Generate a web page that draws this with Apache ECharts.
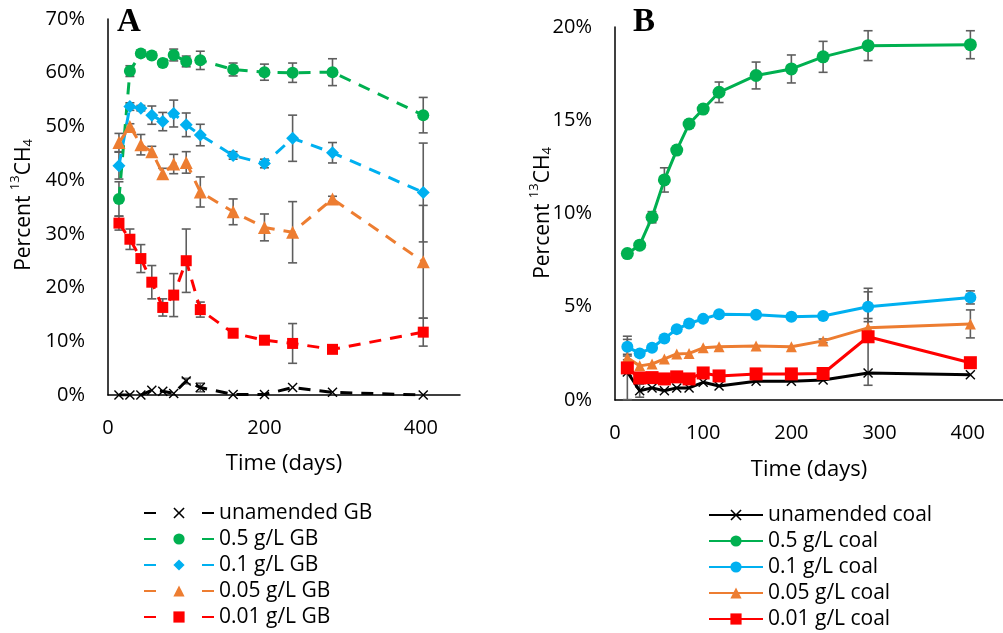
<!DOCTYPE html>
<html>
<head>
<meta charset="utf-8">
<script src="https://cdn.jsdelivr.net/npm/echarts@6/dist/echarts.min.js"></script>
<style>
  html, body { margin: 0; padding: 0; background: #fff; }
  #chart { width: 1003px; height: 633px; }
</style>
</head>
<body>
<div id="chart"></div>
<script>
// ---------- data ----------
const days = [14, 28, 42, 56, 70, 84, 100, 118, 160, 200, 236, 287, 403];

// Panel A (GB), percent 13CH4
const gbUnamended = [0, 0, 0, 0.9, 0.7, 0.3, 2.6, 1.4, 0.1, 0.1, 1.4, 0.5, 0];
const gbUnamendedErr = [0, 0, 0, 0, 0, 0, 0.5, 0.8, 0, 0, 0, 0, 0];
const gb05 = [36.5, 60.3, 63.6, 63.2, 61.8, 63.3, 62.1, 62.3, 60.6, 60.1, 60.0, 60.1, 52.1];
const gb05Err = [3.2, 1.0, 0.6, 0.6, 0.6, 1.1, 1.0, 1.7, 1.2, 1.5, 1.8, 2.5, 3.3];
const gb01 = [42.7, 53.7, 53.4, 52.1, 50.9, 52.4, 50.3, 48.4, 44.6, 43.1, 47.8, 45.1, 37.7];
const gb01Err = [2.5, 0.7, 0.5, 1.7, 1.7, 2.5, 2.2, 2.0, 0.7, 0.8, 4.3, 1.9, 9.2];
const gb005 = [47.0, 50.0, 46.6, 45.3, 41.2, 43.0, 43.3, 37.8, 34.1, 31.2, 30.3, 36.5, 24.8];
const gb005Err = [1.7, 0.5, 1.9, 1.0, 1.0, 1.8, 2.0, 2.8, 2.4, 2.5, 5.7, 0.5, 10.5];
const gb001 = [32.0, 29.0, 25.4, 21.0, 16.3, 18.6, 25.0, 15.9, 11.5, 10.2, 9.6, 8.5, 11.7];
const gb001Err = [1.3, 1.9, 2.6, 3.1, 1.6, 4.0, 5.9, 1.4, 0.5, 0.5, 3.7, 0.5, 2.6];

// Panel B (coal), percent 13CH4
const coalUnamended = [1.5, 0.5, 0.65, 0.5, 0.65, 0.65, 0.95, 0.75, 1.0, 1.0, 1.07, 1.45, 1.35];
const coalUnamendedErr = [0, 0.35, 0, 0, 0, 0, 0, 0, 0, 0, 0, 0, 0];
const coal05 = [7.85, 8.3, 9.8, 11.8, 13.4, 14.8, 15.6, 16.5, 17.4, 17.75, 18.4, 19.0, 19.05];
const coal05Err = [0.15, 0.2, 0.3, 0.65, 0.2, 0.2, 0.2, 0.55, 0.72, 0.75, 0.83, 0.8, 0.75];
const coal01 = [2.85, 2.5, 2.8, 3.3, 3.8, 4.1, 4.35, 4.6, 4.57, 4.46, 4.5, 5.0, 5.5];
const coal01Err = [0.4, 0, 0, 0, 0, 0, 0, 0, 0, 0, 0, 0.8, 0.35];
const coal005 = [2.26, 1.83, 1.93, 2.2, 2.47, 2.5, 2.8, 2.85, 2.9, 2.85, 3.17, 3.87, 4.08];
const coal005Err = [0.1, 0, 0, 0, 0, 0, 0, 0, 0, 0, 0.1, 0.5, 0.75];
const coal001 = [1.72, 1.18, 1.2, 1.13, 1.24, 1.13, 1.45, 1.29, 1.4, 1.4, 1.42, 3.39, 2.0];
const coal001Err = [1.7, 0, 0, 0, 0, 0, 0, 0, 0, 0, 0, 2.6, 0];

const xTicksA = [0, 200, 400];
const yTicksA = [0, 10, 20, 30, 40, 50, 60, 70];
const xTicksB = [0, 100, 200, 300, 400];
const yTicksB = [0, 5, 10, 15, 20];

// ---------- styling ----------
const FONT = '"Open Sans", "Liberation Sans", sans-serif';
const C = { black: '#000000', green: '#00B050', blue: '#00B0F0', orange: '#ED7D31', red: '#FF0000' };
const ERR = '#5E5E5E';
const crossPath = 'path://M0,1 L1,0 L5,4 L9,0 L10,1 L6,5 L10,9 L9,10 L5,6 L1,10 L0,9 L4,5 Z';

function pairs(vals) { return days.map((d, i) => [d, vals[i]]); }

function lineSeries(name, vals, color, symbol, size, axis, dashed) {
  return {
    name, type: 'line', xAxisIndex: axis, yAxisIndex: axis,
    data: pairs(vals), symbol, symbolSize: size, showAllSymbol: true,
    lineStyle: { color, width: 3, type: dashed ? [12, 9] : 'solid' },
    itemStyle: { color, borderWidth: 0 },
    z: 3, animation: false
  };
}

function errSeries(name, vals, errs, axis) {
  const data = [];
  days.forEach((d, i) => { if (errs[i] > 0) data.push([d, vals[i] - errs[i], vals[i] + errs[i]]); });
  return {
    name, type: 'custom', xAxisIndex: axis, yAxisIndex: axis, data,
    encode: { x: 0, y: [1, 2] }, z: 2, silent: true, animation: false,
    renderItem: function (params, api) {
      const x = api.value(0);
      const p1 = api.coord([x, api.value(2)]);
      const p2 = api.coord([x, api.value(1)]);
      const hw = 4.5;
      const st = { stroke: ERR, lineWidth: 1.6, fill: null };
      return {
        type: 'group', children: [
          { type: 'line', shape: { x1: p1[0], y1: p1[1], x2: p2[0], y2: p2[1] }, style: st },
          { type: 'line', shape: { x1: p1[0] - hw, y1: p1[1], x2: p1[0] + hw, y2: p1[1] }, style: st },
          { type: 'line', shape: { x1: p2[0] - hw, y1: p2[1], x2: p2[0] + hw, y2: p2[1] }, style: st }
        ]
      };
    }
  };
}

function xAxis(grid, max, interval) {
  return {
    type: 'value', gridIndex: grid, min: 0, max, interval,
    axisLine: { show: true, onZero: false, lineStyle: { color: '#000', width: 1.5 } },
    axisTick: { show: false }, splitLine: { show: false },
    axisLabel: { fontFamily: FONT, fontSize: 20, color: '#000', margin: 23, showMaxLabel: false }
  };
}
function yAxis(grid, max, interval) {
  return {
    type: 'value', gridIndex: grid, min: 0, max, interval,
    axisLine: { show: true, lineStyle: { color: '#000', width: 1.5 } },
    axisTick: { show: false }, splitLine: { show: false },
    axisLabel: { fontFamily: FONT, fontSize: 20, color: '#000', margin: 23, formatter: v => v + '%' }
  };
}

const namesA = ['unamended GB', '0.5 g/L GB', '0.1 g/L GB', '0.05 g/L GB', '0.01 g/L GB'];
const namesB = ['unamended coal', '0.5 g/L coal', '0.1 g/L coal', '0.05 g/L coal', '0.01 g/L coal'];

const series = [
  errSeries('eA0', gbUnamended, gbUnamendedErr, 0),
  errSeries('eA1', gb05, gb05Err, 0),
  errSeries('eA2', gb01, gb01Err, 0),
  errSeries('eA3', gb005, gb005Err, 0),
  errSeries('eA4', gb001, gb001Err, 0),
  lineSeries(namesA[0], gbUnamended, C.black, crossPath, 10, 0, true),
  lineSeries(namesA[1], gb05, C.green, 'circle', 12, 0, true),
  lineSeries(namesA[2], gb01, C.blue, 'diamond', 13, 0, true),
  lineSeries(namesA[3], gb005, C.orange, 'triangle', 13, 0, true),
  lineSeries(namesA[4], gb001, C.red, 'rect', 11, 0, true),
  errSeries('eB0', coalUnamended, coalUnamendedErr, 1),
  errSeries('eB1', coal05, coal05Err, 1),
  errSeries('eB2', coal01, coal01Err, 1),
  errSeries('eB3', coal005, coal005Err, 1),
  errSeries('eB4', coal001, coal001Err, 1),
  lineSeries(namesB[0], coalUnamended, C.black, crossPath, 10, 1, false),
  lineSeries(namesB[1], coal05, C.green, 'circle', 13, 1, false),
  lineSeries(namesB[2], coal01, C.blue, 'circle', 12, 1, false),
  lineSeries(namesB[3], coal005, C.orange, 'triangle', 11, 1, false),
  lineSeries(namesB[4], coal001, C.red, 'rect', 13, 1, false)
];

const legendText = { fontFamily: FONT, fontSize: 21, color: '#000', lineHeight: 22 };
const yTitleRich = {
  a: { fontFamily: FONT, fontSize: 21, color: '#000', lineHeight: 26, verticalAlign: 'bottom' },
  s: { fontFamily: FONT, fontSize: 13, color: '#000', lineHeight: 26, verticalAlign: 'top' },
  b: { fontFamily: FONT, fontSize: 13, color: '#000', lineHeight: 16, verticalAlign: 'bottom' }
};

const option = {
  backgroundColor: '#fff',
  animation: false,
  grid: [
    { left: 108, top: 19, width: 352, height: 376 },
    { left: 615, top: 27, width: 388, height: 373 }
  ],
  xAxis: [xAxis(0, 450, 200), xAxis(1, 440, 100)],
  yAxis: [yAxis(0, 70, 10), yAxis(1, 20, 5)],
  legend: [
    { orient: 'vertical', left: 143, top: 502, height: 131, padding: 0, itemWidth: 70, itemHeight: 14,
      itemGap: 4, itemTextGap: 6, lineStyle: { type: [12, 46] },
      data: namesA, textStyle: legendText, selectedMode: false },
    { orient: 'vertical', left: 708, top: 504, height: 129, padding: 0, itemWidth: 54, itemHeight: 14,
      itemGap: 4, itemTextGap: 5,
      data: namesB, textStyle: legendText, selectedMode: false }
  ],
  graphic: [
    { type: 'text', left: 117, top: 6, style: { text: 'A', font: 'bold 33px "Liberation Serif", serif', fill: '#000' } },
    { type: 'text', left: 633, top: 6, style: { text: 'B', font: 'bold 33px "Liberation Serif", serif', fill: '#000' } },
    { type: 'text', x: 284, y: 464, style: { text: 'Time (days)', font: '22px ' + FONT, fill: '#000', align: 'center', verticalAlign: 'middle' } },
    { type: 'text', x: 809, y: 470, style: { text: 'Time (days)', font: '22px ' + FONT, fill: '#000', align: 'center', verticalAlign: 'middle' } },
    { type: 'text', x: 22, y: 205, rotation: Math.PI / 2,
      style: { text: '{a|Percent }{s|13}{a|CH}{b|4}', rich: yTitleRich, align: 'center', verticalAlign: 'middle' } },
    { type: 'text', x: 541, y: 213, rotation: Math.PI / 2,
      style: { text: '{a|Percent }{s|13}{a|CH}{b|4}', rich: yTitleRich, align: 'center', verticalAlign: 'middle' } }
  ],
  series
};

const chart = echarts.init(document.getElementById('chart'), null, { renderer: 'canvas' });
chart.setOption(option);
</script>
</body>
</html>
